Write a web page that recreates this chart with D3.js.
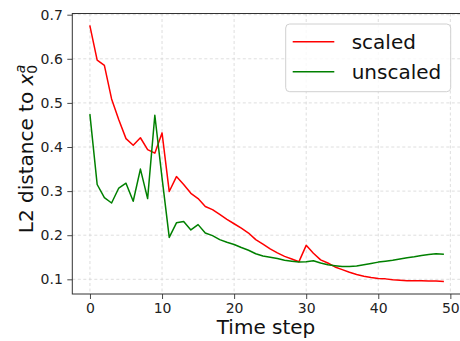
<!DOCTYPE html>
<html>
<head>
<meta charset="utf-8">
<script src="https://cdn.jsdelivr.net/npm/d3@7"></script>
<style>
  body { margin: 0; background: #fff; }
  svg { font-family: "DejaVu Sans", sans-serif; display: block; }
</style>
</head>
<body>
<svg id="chart" width="460" height="341"></svg>
<script>
const scaled = [
  0.674, 0.597, 0.585, 0.509, 0.462, 0.419, 0.404, 0.421, 0.394, 0.386,
  0.432, 0.299, 0.333, 0.315, 0.295, 0.283, 0.265, 0.258, 0.247, 0.236,
  0.226, 0.216, 0.205, 0.190, 0.180, 0.169, 0.160, 0.152, 0.146, 0.140,
  0.177, 0.159, 0.144, 0.137, 0.128, 0.122, 0.116, 0.111, 0.107, 0.104,
  0.102, 0.101, 0.099, 0.098, 0.097, 0.097, 0.097, 0.096, 0.096, 0.095,
];
const unscaled = [
  0.473, 0.315, 0.285, 0.273, 0.307, 0.318, 0.277, 0.350, 0.283, 0.472,
  0.330, 0.195, 0.228, 0.231, 0.212, 0.224, 0.205, 0.199, 0.190, 0.184,
  0.179, 0.172, 0.166, 0.158, 0.153, 0.150, 0.147, 0.143, 0.141, 0.139,
  0.140, 0.142, 0.137, 0.133, 0.131, 0.129, 0.129, 0.130, 0.133, 0.136,
  0.139, 0.141, 0.143, 0.146, 0.149, 0.151, 0.154, 0.156, 0.158, 0.157,
];
const steps = d3.range(scaled.length);
const xTicks = [0, 10, 20, 30, 40, 50];
const yTicks = [0.1, 0.2, 0.3, 0.4, 0.5, 0.6, 0.7];
const seriesNames = ["scaled", "unscaled"];
const seriesColors = ["#ff0000", "#008000"];

const svg = d3.select("#chart");
const plotL = 72.3, plotR = 460.8, plotT = 13.5, plotB = 294;

const x = d3.scaleLinear().domain([-2.45, 51.45]).range([plotL, plotR]);
const y = d3.scaleLinear().domain([0.0667, 0.7027]).range([plotB, plotT]);

// grid
const grid = svg.append("g")
  .attr("stroke", "#d6d6d6")
  .attr("stroke-width", 0.8)
  .attr("stroke-dasharray", "3,2.5");
grid.selectAll(".gx").data(xTicks).enter().append("line")
  .attr("x1", (d) => x(d)).attr("x2", (d) => x(d))
  .attr("y1", plotT).attr("y2", plotB);
grid.selectAll(".gy").data(yTicks).enter().append("line")
  .attr("x1", plotL).attr("x2", plotR)
  .attr("y1", (d) => y(d)).attr("y2", (d) => y(d));

// lines
const line = d3.line().x((d, i) => x(steps[i])).y((d) => y(d));
[scaled, unscaled].forEach((s, k) => {
  svg.append("path")
    .datum(s)
    .attr("d", line)
    .attr("fill", "none")
    .attr("stroke", seriesColors[k])
    .attr("stroke-width", 1.5)
    .attr("stroke-linejoin", "round")
    .attr("stroke-linecap", "square");
});

// axes
const xAxis = svg.append("g")
  .attr("transform", `translate(0,${plotB})`)
  .call(d3.axisBottom(x).tickValues(xTicks).tickFormat(d3.format("d")).tickSize(5).tickPadding(4));
const yAxis = svg.append("g")
  .attr("transform", `translate(${plotL},0)`)
  .call(d3.axisLeft(y).tickValues(yTicks).tickFormat(d3.format(".1f")).tickSize(5).tickPadding(4.5));
[xAxis, yAxis].forEach((a) => {
  a.select(".domain").remove();
  a.selectAll(".tick line").attr("stroke", "#333").attr("stroke-width", 0.9);
  a.selectAll(".tick text")
    .attr("font-family", "DejaVu Sans")
    .attr("font-size", 14)
    .attr("fill", "#222");
});

// frame
svg.append("rect")
  .attr("x", plotL).attr("y", plotT)
  .attr("width", plotR - plotL).attr("height", plotB - plotT)
  .attr("fill", "none")
  .attr("stroke", "#333")
  .attr("stroke-width", 1);

// axis titles
svg.append("text")
  .attr("x", (plotL + plotR) / 2 - 0.5)
  .attr("y", 334)
  .attr("text-anchor", "middle")
  .attr("font-size", 20)
  .attr("fill", "#111")
  .text("Time step");

const yl = svg.append("text")
  .attr("transform", "translate(33,149) rotate(-90)")
  .attr("text-anchor", "middle")
  .attr("font-size", 20)
  .attr("fill", "#111");
yl.append("tspan").text("L2 distance to ");
yl.append("tspan").attr("font-style", "italic").text("x");
yl.append("tspan").attr("font-size", 14).attr("dy", 4).text("0");
yl.append("tspan").attr("font-size", 14).attr("font-style", "italic")
  .attr("dx", -8.6).attr("dy", -12).text("a");

// legend
const legend = svg.append("g");
legend.append("rect")
  .attr("x", 285.7).attr("y", 24)
  .attr("width", 165).attr("height", 67.7)
  .attr("rx", 4)
  .attr("fill", "#fff").attr("fill-opacity", 0.8)
  .attr("stroke", "#d0d0d0");
seriesNames.forEach((name, i) => {
  const ly = 41.7 + i * 30;
  legend.append("line")
    .attr("x1", 292.7).attr("x2", 334.3)
    .attr("y1", ly).attr("y2", ly)
    .attr("stroke", seriesColors[i])
    .attr("stroke-width", 1.5);
  legend.append("text")
    .attr("x", 351.7).attr("y", ly + 6.8)
    .attr("font-size", 20)
    .attr("fill", "#111")
    .text(name);
});
</script>
</body>
</html>
